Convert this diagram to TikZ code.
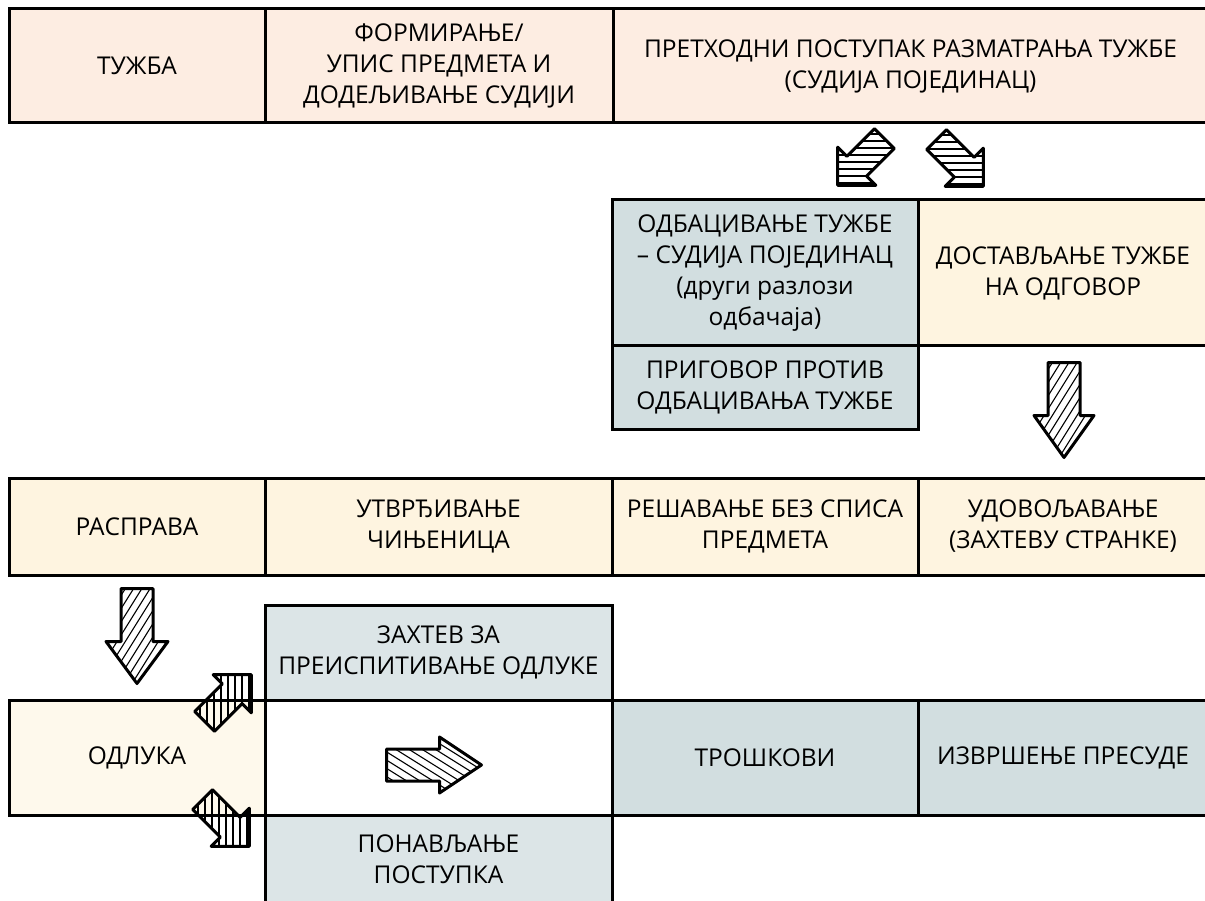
\documentclass[tikz,border=0pt]{standalone}
\usepackage{fontspec}
\setmainfont{Open Sans}
\usepackage{tikz}
\usetikzlibrary{positioning}
\definecolor{peach}{HTML}{FDEDE2}
\definecolor{cream}{HTML}{FEF4E0}
\definecolor{paper}{HTML}{FEF9EC}
\definecolor{slate}{HTML}{D2DEE0}
\definecolor{mist}{HTML}{DCE5E7}
\tikzset{
	x=1pt, y=-1pt,
	cell/.style={draw, line width=3pt, outer sep=0pt, inner sep=0pt, align=center,
		font=\fontsize{24.5}{31}\selectfont},
	hatch/.style={line width=1.1pt},
	outline/.style={line width=3pt, line join=round},
	pics/hatcharrow/.style n args={5}{code={
		\begin{scope}
			\clip (-#1/2,-#2) -- (#1/2-#4,-#2) -- (#1/2-#4,-#3) -- (#1/2,0) -- (#1/2-#4,#3) -- (#1/2-#4,#2) -- (-#1/2,#2) -- cycle;
			\foreach \k in {-10,...,10} \draw[hatch, rotate=#5] (-90,\k*7) -- (90,\k*7);
		\end{scope}
		\draw[outline] (-#1/2,-#2) -- (#1/2-#4,-#2) -- (#1/2-#4,-#3) -- (#1/2,0) -- (#1/2-#4,#3) -- (#1/2-#4,#2) -- (-#1/2,#2) -- cycle;
	}},
}
\begin{document}
\begin{tikzpicture}
	\useasboundingbox (0,0) rectangle (1205,901);
	% first row
	\node[cell, fill=peach, minimum width=256, minimum height=114, anchor=north west] (TUZBA) at (9,9) {ТУЖБА};
	\node[cell, fill=peach, minimum width=348, minimum height=114, right=0pt of TUZBA] (UPIS) {ФОРМИРАЊЕ/\\УПИС ПРЕДМЕТА И\\ДОДЕЉИВАЊЕ СУДИЈИ};
	\node[cell, fill=peach, minimum width=595, minimum height=114, right=0pt of UPIS] (PRETHODNI) {ПРЕТХОДНИ ПОСТУПАК РАЗМАТРАЊА ТУЖБЕ\\(СУДИЈА ПОЈЕДИНАЦ)};
	% second row
	\node[cell, fill=slate, minimum width=306, minimum height=146, anchor=north west] (ODBACIVANJE) at (612,200) {ОДБАЦИВАЊЕ ТУЖБЕ\\– СУДИЈА ПОЈЕДИНАЦ\\(други разлози\\одбачаја)};
	\node[cell, fill=cream, minimum width=290, minimum height=146, right=0pt of ODBACIVANJE] (DOSTAVLJANJE) {ДОСТАВЉАЊЕ ТУЖБЕ\\НА ОДГОВОР};
	\node[cell, fill=slate, minimum width=306, minimum height=83, below=0pt of ODBACIVANJE] (PRIGOVOR) {ПРИГОВОР ПРОТИВ\\ОДБАЦИВАЊА ТУЖБЕ};
	% third row
	\node[cell, fill=cream, minimum width=256, minimum height=97, anchor=north west] (RASPRAVA) at (9,478) {РАСПРАВА};
	\node[cell, fill=cream, minimum width=347, minimum height=97, right=0pt of RASPRAVA] (CINJENICE) {УТВРЂИВАЊЕ\\ЧИЊЕНИЦА};
	\node[cell, fill=cream, minimum width=306, minimum height=97, right=0pt of CINJENICE] (BEZSPISA) {РЕШАВАЊЕ БЕЗ СПИСА\\ПРЕДМЕТА};
	\node[cell, fill=cream, minimum width=290, minimum height=97, right=0pt of BEZSPISA] (UDOVOLJAVANJE) {УДОВОЉАВАЊЕ\\(ЗАХТЕВУ СТРАНКЕ)};
	% decision row
	\node[cell, fill=paper, minimum width=256, minimum height=115, anchor=north west] (ODLUKA) at (9,700) {ОДЛУКА};
	\node[cell, fill=white, minimum width=347, minimum height=115, right=0pt of ODLUKA] (MIDDLE) {};
	\node[cell, fill=slate, minimum width=306, minimum height=115, right=0pt of MIDDLE] (TROSKOVI) {ТРОШКОВИ};
	\node[cell, fill=slate, minimum width=290, minimum height=115, right=0pt of TROSKOVI] (IZVRSENJE) {ИЗВРШЕЊЕ ПРЕСУДЕ};
	\node[cell, fill=mist, minimum width=347, minimum height=95, above=0pt of MIDDLE] (ZAHTEV) {ЗАХТЕВ ЗА\\ПРЕИСПИТИВАЊЕ ОДЛУКЕ};
	\node[cell, fill=mist, minimum width=347, minimum height=88, below=0pt of MIDDLE] (PONAVLJANJE) {ПОНАВЉАЊЕ\\ПОСТУПКА};
	% hatched arrows
	\pic[rotate=-135] at (861,162) {hatcharrow={66}{14}{27}{27}{-45}};
	\pic[rotate=-45] at (960,163) {hatcharrow={66}{14}{27}{27}{45}};
	\pic[rotate=-90] at (1064,410) {hatcharrow={95}{16}{30}{42}{-32}};
	\pic[rotate=-90] at (137,636) {hatcharrow={95}{16}{31}{42}{-32}};
	\pic[rotate=45] at (228,698) {hatcharrow={66}{14}{27}{27}{45}};
	\pic at (434,765) {hatcharrow={95}{16}{28}{42}{-32}};
	\pic[rotate=-45] at (226,823) {hatcharrow={66}{14}{27}{27}{-45}};
\end{tikzpicture}
\end{document}
